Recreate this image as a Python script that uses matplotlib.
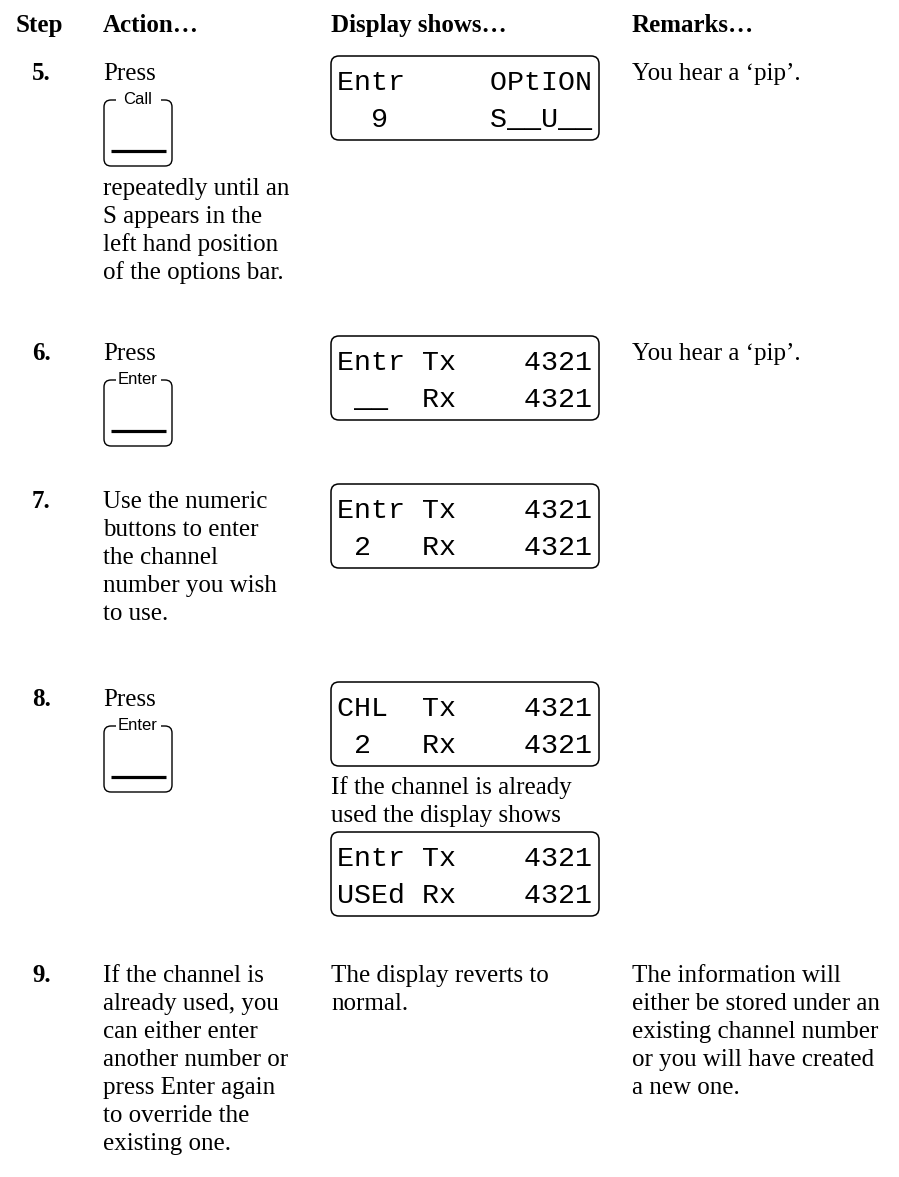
import matplotlib.pyplot as plt
from matplotlib.patches import FancyBboxPatch, Rectangle

# ---- page content ---------------------------------------------------------
headers = ["Step", "Action…", "Display shows…", "Remarks…"]
step_nums = ["5.", "6.", "7.", "8.", "9."]

# action column: text before the key, key label, text after the key
action_pre = [["Press"], ["Press"],
              ["Use the numeric", "buttons to enter", "the channel",
               "number you wish", "to use."],
              ["Press"],
              ["If the channel is", "already used, you", "can either enter",
               "another number or", "press Enter again", "to override the",
               "existing one."]]
action_key = ["Call", "Enter", None, "Enter", None]
action_post = [["repeatedly until an", "S appears in the", "left hand position",
                "of the options bar."], [], [], [], []]

# display column: LCD rows (15 character cells)
lcd5 = ["Entr     OPtION", "  9      S__U__"]
lcd6 = ["Entr Tx    4321", " __  Rx    4321"]
lcd7 = ["Entr Tx    4321", " 2   Rx    4321"]
lcd8 = ["CHL  Tx    4321", " 2   Rx    4321"]
lcd8_used = ["Entr Tx    4321", "USEd Rx    4321"]
display8_note = ["If the channel is already", "used the display shows"]
display9 = ["The display reverts to", "normal."]

remarks = [["You hear a ‘pip’."], ["You hear a ‘pip’."], [], [],
           ["The information will", "either be stored under an",
            "existing channel number", "or you will have created",
            "a new one."]]

# ---- layout (pixels, y measured from top) ---------------------------------
W, H = 899, 1177
col_x = [16, 103, 331, 632]
num_x = 32
row_y = [80, 360, 508, 706, 982]
LINE = 28
SERIF = "Liberation Serif"
FS = 18

fig = plt.figure(figsize=(W / 100, H / 100), dpi=100)
ax = fig.add_axes([0, 0, 1, 1])
ax.set_xlim(0, W)
ax.set_ylim(H, 0)
ax.axis("off")


def txt(x, y, s, **kw):
    kw.setdefault("family", SERIF)
    kw.setdefault("fontsize", FS)
    ax.text(x, y, s, ha="left", va="baseline", color="black", **kw)


def key(x0, top, label):
    w, h = 68, 66
    ax.add_patch(FancyBboxPatch((x0, top), w, h,
                                boxstyle="round,pad=0,rounding_size=7",
                                fc="none", ec="black", lw=1.0))
    # gap in the top edge for the label
    ax.add_patch(Rectangle((x0 + 12, top - 3), w - 23, 6, fc="white",
                           ec="none", zorder=3))
    ax.text(x0 + w / 2, top - 1, label, ha="center", va="center",
            family="Liberation Sans", fontsize=12, zorder=4)
    ax.plot([x0 + 7, x0 + 62], [top + 51, top + 51], color="black", lw=2.3,
            solid_capstyle="butt")
    return top + h


def lcd(top, rows):
    ax.add_patch(FancyBboxPatch((331, top), 268, 84,
                                boxstyle="round,pad=0,rounding_size=8",
                                fc="none", ec="black", lw=1.1))
    for i, r in enumerate(rows):
        ax.text(337, top + 34 + 37 * i, r, ha="left", va="baseline",
                family="Liberation Mono", fontsize=20.4, color="black")
    return top + 84


# headers
for x, h in zip(col_x, headers):
    txt(x, 32, h, weight="bold")

for i, y in enumerate(row_y):
    txt(num_x, y, step_nums[i], weight="bold")
    # action column
    yy = y
    for s in action_pre[i]:
        txt(col_x[1], yy, s)
        yy += LINE
    if action_key[i]:
        bottom = key(104, y + 20, action_key[i])
        yy = bottom + 29
        for s in action_post[i]:
            txt(col_x[1], yy, s)
            yy += LINE
    # remarks column
    for j, s in enumerate(remarks[i]):
        txt(col_x[3], y + j * LINE, s)

# display column
lcd(row_y[0] - 24, lcd5)
lcd(row_y[1] - 24, lcd6)
lcd(row_y[2] - 24, lcd7)
b = lcd(row_y[3] - 24, lcd8)
for j, s in enumerate(display8_note):
    txt(col_x[2], b + 28 + j * LINE, s)
lcd(b + 28 + LINE + 10, lcd8_used)
for j, s in enumerate(display9):
    txt(col_x[2], row_y[4] + j * LINE, s)

fig.savefig("out.png", dpi=100)
